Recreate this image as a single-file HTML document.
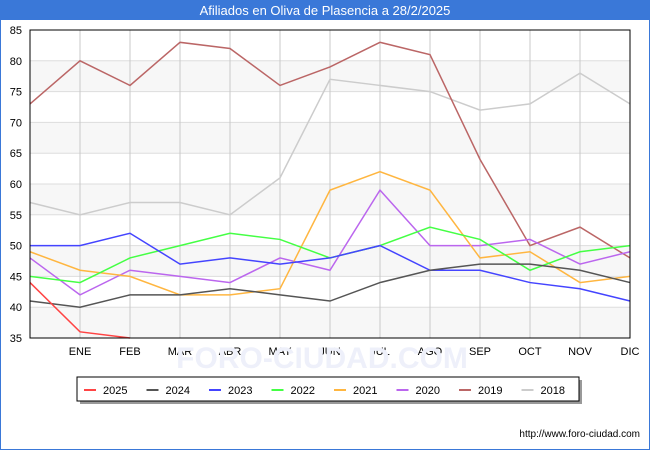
<!DOCTYPE html>
<html><head><meta charset="utf-8"><style>
body{margin:0;width:650px;height:450px;overflow:hidden;background:#fff;font-family:"Liberation Sans","DejaVu Sans",sans-serif;}
#frame{position:absolute;left:0;top:0;width:648px;height:448px;border:1px solid #3a78d8;}
</style></head><body>
<div id="frame"></div>
<svg id="chart" width="650" height="450" style="position:absolute;left:0;top:0">
<rect x="0" y="0" width="650" height="20" fill="#3a78d8"/>
<text x="325" y="15" text-anchor="middle" font-size="13" fill="#fff">Afiliados en Oliva de Plasencia a 28/2/2025</text>
<g id="bands"></g><g id="grid"></g><g id="series"></g><g id="axes"></g>
<text x="322" y="368" text-anchor="middle" font-size="30" fill="#eef0fa" font-weight="bold">FORO-CIUDAD.COM</text>
<rect x="80" y="380" width="502" height="24" fill="#999"/>
<rect x="77" y="377" width="502" height="24" fill="#fff" stroke="#000"/>
<g id="legend"></g>
<text x="640" y="437" text-anchor="end" font-size="10" fill="#000">http://www.foro-ciudad.com</text>
</svg>
<script>
const months=["","ENE","FEB","MAR","ABR","MAY","JUN","JUL","AGO","SEP","OCT","NOV","DIC"];
const yTicks=[35,40,45,50,55,60,65,70,75,80,85];
const seriesNames=["2025","2024","2023","2022","2021","2020","2019","2018"];
const colors=["#ff4444","#555555","#4444ff","#44ff44","#ffb640","#bb66ee","#bb6666","#cccccc"];
const s2025=[44,36,35];
const s2024=[41,40,42,42,43,42,41,44,46,47,47,46,44];
const s2023=[50,50,52,47,48,47,48,50,46,46,44,43,41];
const s2022=[45,44,48,50,52,51,48,50,53,51,46,49,50];
const s2021=[49,46,45,42,42,43,59,62,59,48,49,44,45];
const s2020=[48,42,46,45,44,48,46,59,50,50,51,47,49];
const s2019=[73,80,76,83,82,76,79,83,81,64,50,53,48];
const s2018=[57,55,57,57,55,61,77,76,75,72,73,78,73];
const allSeries=[s2025,s2024,s2023,s2022,s2021,s2020,s2019,s2018];
const X0=30,X1=630,Y0=338,Y1=30,ymin=35,ymax=85;
const xs=i=>X0+i*(X1-X0)/(months.length-1);
const ys=v=>Y0-(v-ymin)*(Y0-Y1)/(ymax-ymin);
const NS="http://www.w3.org/2000/svg";
function mk(p,t,a){const e=document.createElementNS(NS,t);for(const k in a)e.setAttribute(k,a[k]);p.appendChild(e);return e;}
const bands=document.getElementById('bands'),grid=document.getElementById('grid'),ser=document.getElementById('series'),axes=document.getElementById('axes'),leg=document.getElementById('legend');
for(let i=0;i<yTicks.length-1;i++){
  if(i%2===0){const r=mk(bands,'rect',{x:X0,y:ys(yTicks[i+1]),width:X1-X0,height:ys(yTicks[i])-ys(yTicks[i+1]),fill:'#f7f7f7'});
  
  }
}
yTicks.forEach(v=>{
  const l=mk(grid,'line',{x1:X0,x2:X1,y1:ys(v),y2:ys(v),stroke:'#dddddd','stroke-width':1});
  
  
  const t=mk(axes,'text',{x:X0-8,y:ys(v)+4,'text-anchor':'end','font-size':11,fill:'#000'});t.textContent=v;
  
  
});
months.forEach((m,i)=>{
  if(i===0)return;
  const l=mk(grid,'line',{x1:xs(i),x2:xs(i),y1:Y1,y2:Y0,stroke:'#c8c8c8','stroke-width':1});
  
  
  const t=mk(axes,'text',{x:xs(i),y:Y0+17,'text-anchor':'middle','font-size':11,fill:'#000'});t.textContent=m;
  
  
});
const fr=mk(axes,'rect',{x:X0,y:Y1,width:X1-X0,height:Y0-Y1,fill:'none',stroke:'#000','stroke-width':1});


for(let k=allSeries.length-1;k>=0;k--){
  const pts=allSeries[k].map((v,i)=>xs(i)+','+ys(v)).join(' ');
  const pl=mk(ser,'polyline',{points:pts,fill:'none',stroke:colors[k],'stroke-width':1.5});
  
  
}
seriesNames.forEach((n,k)=>{
  const x=84+k*62.5;
  const l=mk(leg,'line',{x1:x,x2:x+12,y1:390,y2:390,stroke:colors[k],'stroke-width':2});
  
  
  const t=mk(leg,'text',{x:x+19,y:394,'font-size':11,fill:'#000'});t.textContent=n;
  
  
});
</script>
</body></html>
